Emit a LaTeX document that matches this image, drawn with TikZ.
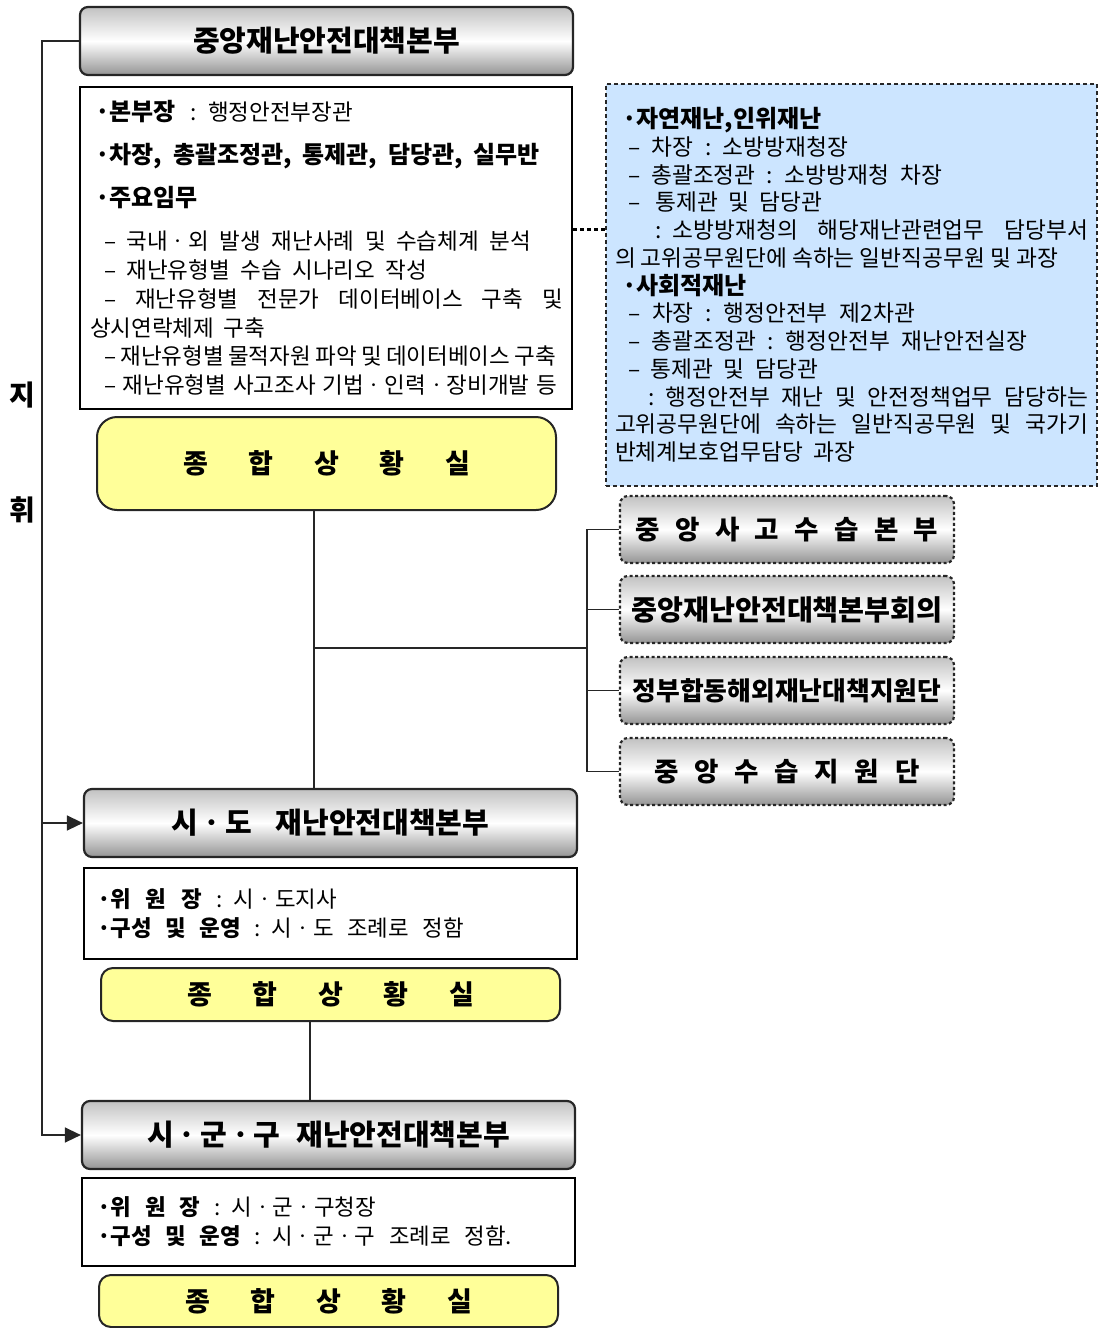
\documentclass[tikz,border=0pt]{standalone}
\usepackage{fontspec}
\setmainfont{Noto Sans CJK KR}
\usetikzlibrary{arrows.meta,calc}
\definecolor{ylw}{HTML}{FFFF99}
\definecolor{lblue}{HTML}{CCE5FF}
\definecolor{lnc}{HTML}{262626}
\newcommand\kb[1]{{\bfseries\fontsize{24}{28.8}\selectfont #1}}
\newcommand\kd[1]{{\bfseries\fontsize{24}{27.75}\selectfont #1}}
\newcommand\kc[1]{{\bfseries #1}}
\newcommand\wl[3]{\hspace*{#1pt}{\spaceskip=3pt plus 200pt minus 2pt\relax\makebox[#2pt][s]{#3}}}
\begin{document}
\begin{tikzpicture}[x=1pt,y=-1pt,
  titlebox/.style={draw=lnc, line width=2.2pt, rounded corners=8pt,
    top color=black!24, bottom color=black!42, middle color=white,
    minimum width=493pt, minimum height=68pt, inner sep=0pt,
    font=\bfseries\fontsize{29}{32}\selectfont},
  infobox/.style={draw=black, line width=2pt, align=left, inner ysep=0pt},
  yellowbox/.style={draw=lnc, line width=2pt, fill=ylw, minimum width=459pt,
    inner sep=0pt, font=\bfseries\fontsize{27}{30}\selectfont},
  dotbox/.style={draw=lnc, line width=2.2pt, dash pattern=on 3pt off 2.5pt,
    rounded corners=8pt, top color=black!24, bottom color=black!42, middle color=white,
    minimum width=334pt, minimum height=67pt, inner sep=0pt,
    font=\bfseries\fontsize{26.5}{30}\selectfont},
  bluebox/.style={draw=black!85, line width=2.4pt, dash pattern=on 4pt off 3pt,
    fill=lblue, align=left, inner ysep=0pt},
  link/.style={draw=lnc, line width=1.4pt},
  dotlink/.style={draw=black, line width=3pt, dash pattern=on 4pt off 3pt},
  arr/.style={link, -{Triangle[length=16pt,width=15pt]}},
  side/.style={font=\bfseries\fontsize{28}{30}\selectfont, inner sep=0pt}
]
\useasboundingbox (0,0) rectangle (1099,1328);

% top headquarters
\node[titlebox] (top) at (326.5,41) {중앙재난안전대책본부};

\node[infobox, minimum width=492pt, minimum height=322pt, text width=473pt, inner xsep=9.5pt,
  font=\fontsize{22.5}{28.8}\selectfont] (info1) at (326,248) {%
\wl{5.5}{258}{\kb{·본부장} : 행정안전부장관}\\[14.2pt]
\wl{5.5}{445}{\kb{·차장, 총괄조정관, 통제관, 담당관, 실무반}}\\[14.2pt]
\hspace*{5.5pt}\kb{·주요임무}\\[14.2pt]
\wl{14.5}{427}{– 국내ㆍ외 발생 재난사례 및 수습체계 분석}\\
\wl{14.5}{323}{– 재난유형별 수습 시나리오 작성}\\
\wl{14.5}{459}{– 재난유형별 전문가 데이터베이스 구축 및}\\
\wl{0.5}{175}{상시연락체제 구축}\\
\wl{14.5}{452}{– 재난유형별 물적자원 파악 및 데이터베이스 구축}\\
\wl{14.5}{453}{– 재난유형별 사고조사 기법ㆍ인력ㆍ장비개발 등}};

\node[yellowbox, minimum height=93pt, rounded corners=20pt] (y1) at (326.5,463.5)
  {종\hspace{40.7pt}합\hspace{40.7pt}상\hspace{40.7pt}황\hspace{40.7pt}실};

% blue box
\node[bluebox, minimum width=491pt, minimum height=402pt, text width=473pt, inner xsep=9pt,
  font=\fontsize{22.7}{27.75}\selectfont] (blue) at (851.5,285) {%
\hspace*{7pt}\kd{·자연재난,인위재난}\\
\wl{13}{220}{– 차장 : 소방방재청장}\\
\wl{13}{314}{– 총괄조정관 : 소방방재청 차장}\\
\wl{13}{194}{– \hspace{5pt}통제관 및 담당관}\\
\wl{40}{433}{: 소방방재청의 해당재난관련업무 담당부서}\\
\wl{0}{443}{의 고위공무원단에 속하는 일반직공무원 및 과장}\\
\hspace*{7pt}\kd{·사회적재난}\\
\wl{13}{287}{– 차장 : 행정안전부 제2차관}\\
\wl{13}{399}{– 총괄조정관 : 행정안전부 재난안전실장}\\
\wl{13}{190}{– 통제관 및 담당관}\\
\wl{33}{440}{: 행정안전부 재난 및 안전정책업무 담당하는}\\
\wl{0}{473}{고위공무원단에 속하는 일반직공무원 및 국가기}\\
\wl{0}{240}{반체계보호업무담당 과장}};

\coordinate (dl) at ([yshift=19pt]info1.east);
\draw[dotlink] (dl) -- (dl -| blue.west);

% right boxes
\node[dotbox] (r1) at (787,529.5)
  {중\hspace{15.3pt}앙\hspace{15.3pt}사\hspace{15.3pt}고\hspace{15.3pt}수\hspace{15.3pt}습\hspace{15.3pt}본\hspace{15.3pt}부};
\node[dotbox, font=\bfseries\fontsize{28.2}{30}\selectfont] (r2) at (787,609.5) {중앙재난안전대책본부회의};
\node[dotbox, font=\bfseries\fontsize{25.8}{30}\selectfont] (r3) at (787,690.5) {정부합동해외재난대책지원단};
\node[dotbox] (r4) at (787,771.5)
  {중\hspace{15.7pt}앙\hspace{15.7pt}수\hspace{15.7pt}습\hspace{15.7pt}지\hspace{15.7pt}원\hspace{15.7pt}단};

% provincial
\node[titlebox] (sido) at (330.5,823) {시ㆍ도\hspace{24pt}재난안전대책본부};
\node[infobox, minimum width=493pt, minimum height=91pt, text width=467pt, inner xsep=13pt,
  font=\fontsize{22.4}{29}\selectfont] (info2) at (330.5,913.5) {%
\wl{0}{240}{\kc{·위 원 장} : 시ㆍ도지사}\\
\wl{0}{367}{\kc{·구성 및 운영} : 시ㆍ도 조례로 정함}};
\node[yellowbox, minimum height=53pt, rounded corners=12pt] (y2) at (330.5,994.5)
  {종\hspace{40.7pt}합\hspace{40.7pt}상\hspace{40.7pt}황\hspace{40.7pt}실};

% municipal
\node[titlebox] (sgg) at (328.5,1135) {시ㆍ군ㆍ구\hspace{16pt}재난안전대책본부};
\node[infobox, minimum width=493pt, minimum height=88pt, text width=467pt, inner xsep=13pt,
  font=\fontsize{22.4}{29}\selectfont] (info3) at (328.5,1222) {%
\wl{2}{279}{\kc{·위 원 장} : 시ㆍ군ㆍ구청장}\\
\wl{2}{415}{\kc{·구성 및 운영} : 시ㆍ군ㆍ구 조례로 정함.}};
\node[yellowbox, minimum height=52pt, rounded corners=12pt] (y3) at (328.5,1301)
  {종\hspace{40.7pt}합\hspace{40.7pt}상\hspace{40.7pt}황\hspace{40.7pt}실};

% side labels
\node[side] (ji) at (22,395) {지};
\node[side] (hwi) at (22,510) {휘};

% connectors
\draw[link] ([xshift=-12.5pt]y1.south) -- ([xshift=-16.5pt]sido.north);
\coordinate (j) at (314,648);
\coordinate (br) at (588,648);
\draw[link] (j) -- (br);
\draw[link] (r1.west) -- ++(-32,0) |- (r4.west);
\draw[link] (r2.west) -- ++(-32,0);
\draw[link] (r3.west) -- ++(-32,0);
\draw[link] ([xshift=-20.5pt]y2.south) -- ([xshift=-18.5pt]sgg.north);

\draw[arr] (top.west) -- ++(-37,0) |- (sgg.west);
\coordinate (lb) at (43,823);
\draw[arr] (lb) -- (sido.west);
\end{tikzpicture}
\end{document}
